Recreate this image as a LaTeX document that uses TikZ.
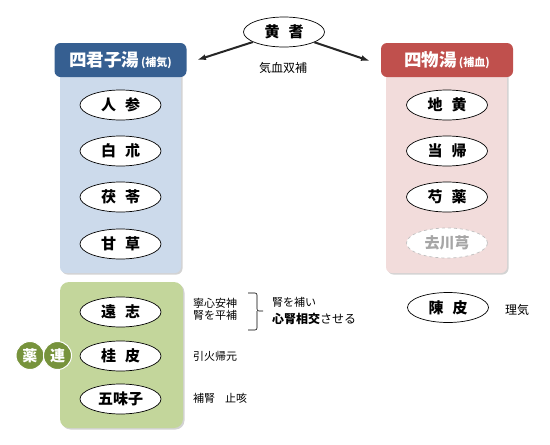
\documentclass[tikz,border=0pt]{standalone}
\usepackage{fontspec}
\setmainfont{Noto Sans CJK JP}
\usetikzlibrary{shapes.geometric,shadows,arrows.meta}

\definecolor{kunhead}{RGB}{54,95,145}
\definecolor{kunbody}{RGB}{204,218,235}
\definecolor{motuhead}{RGB}{192,80,77}
\definecolor{motubody}{RGB}{242,220,219}
\definecolor{addbody}{RGB}{195,214,155}
\definecolor{olive}{RGB}{119,147,60}

\begin{document}
\begin{tikzpicture}[x=1pt, y=-1pt,
  herb/.style={ellipse, draw, fill=white, line width=.7pt, minimum width=81pt, minimum height=30pt, inner sep=0pt, font=\fontsize{15}{15}\selectfont\bfseries},
  head/.style={rectangle, rounded corners=6pt, text=white, minimum width=132pt, minimum height=34pt, inner sep=0pt, font=\fontsize{17.5}{17.5}\selectfont\bfseries},
  note/.style={anchor=west, inner sep=0pt, font=\fontsize{11}{12}\selectfont},
  tag/.style={circle, fill=olive, draw=white, line width=1pt, minimum size=28pt, inner sep=0pt, text=white, font=\fontsize{15}{15}\selectfont\bfseries},
  panel/.style={rounded corners=6pt, drop shadow={shadow xshift=1.5pt, shadow yshift=-1.5pt, opacity=.35}}]
  \useasboundingbox (0,0) rectangle (550,445);

  % panels
  \fill[kunbody, panel] (60,62) rectangle (181,273);
  \fill[motubody, panel] (386,62) rectangle (507,273);
  \fill[addbody, panel, rounded corners=9pt] (60,282) rectangle (183,428);
  \node (kunhead) [head, fill=kunhead] at (120.5,60) {四君子湯\hspace{2pt}{\fontsize{11}{11}\selectfont (補気)}};
  \node (motuhead) [head, fill=motuhead] at (447,60) {四物湯\hspace{2pt}{\fontsize{11}{11}\selectfont (補血)}};

  % top
  \node (ogi) [herb] at (284,32) {黄\hspace{9pt}耆};
  \coordinate (kunarrow) at (197,60);
  \coordinate (motuarrow) at (370,61);
  \draw[-{Latex[length=9pt,width=6pt]}, line width=2pt, black!85] (ogi) -- (kunarrow);
  \draw[-{Latex[length=9pt,width=6pt]}, line width=2pt, black!85] (ogi) -- (motuarrow);
  \node (soho) [inner sep=0pt, font=\fontsize{12}{12}\selectfont] at (283,68) {気血双補};

  % shikunshito
  \node (ninjin) [herb] at (120.5,105) {人\hspace{9pt}参};
  \node (byakujutsu) [herb] at (120.5,151) {白\hspace{9pt}朮};
  \node (bukuryo) [herb] at (120.5,197) {茯\hspace{9pt}苓};
  \node (kanzo) [herb] at (120.5,244) {甘\hspace{9pt}草};

  % shimotsuto
  \node (jio) [herb] at (447,105) {地\hspace{9pt}黄};
  \node (toki) [herb] at (447,151) {当\hspace{9pt}帰};
  \node (shakuyaku) [herb] at (447,197) {芍\hspace{9pt}薬};
  \node (senkyu) [herb, draw=black!25, dashed, text=black!35] at (447,243) {去川芎};

  % additions
  \node (onji) [herb] at (120.5,312) {遠\hspace{9pt}志};
  \node (keihi) [herb] at (120.5,356) {桂\hspace{9pt}皮};
  \node (gomishi) [herb] at (120.5,399) {五味子};
  \node (yaku) [tag] at (30,355.5) {薬};
  \node (ren) [tag] at (57.5,355.5) {連};
  \node (chinpi) [herb] at (448,307.5) {陳\hspace{9pt}皮};

  % notes
  \node (onji1) [note] at (193,303) {寧心安神};
  \node (onji2) [note] at (193,315) {腎を平補};
  \draw[line width=.6pt, rounded corners=2pt] (248,293) -- (257,293) -- (257,311) -- (263,311);
  \draw[line width=.6pt, rounded corners=2pt] (248,330) -- (257,330) -- (257,311);
  \node (onji3) [note] at (272,302) {腎を補い};
  \node (onji4) [note, font=\fontsize{12}{12}\selectfont] at (272,319) {\textbf{心腎相交}させる};
  \node (keihi1) [note] at (193,356) {引火帰元};
  \node (gomishi1) [note] at (193,398) {補腎\hspace{10pt}止咳};
  \node (chinpi1) [note, font=\fontsize{12}{12}\selectfont] at (505,310) {理気};
\end{tikzpicture}
\end{document}
